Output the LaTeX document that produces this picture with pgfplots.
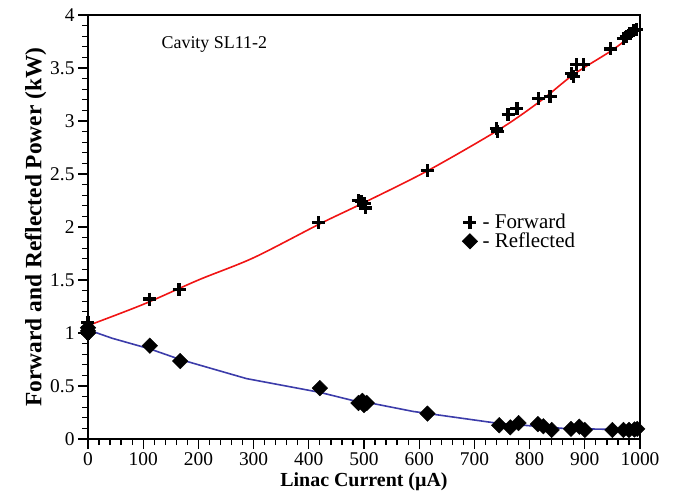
\documentclass[border=0pt]{standalone}
\usepackage{fontspec}
\setmainfont{Liberation Serif}
\usepackage{pgfplots}
\pgfplotsset{compat=1.18}
\usetikzlibrary{calc}

\definecolor{fitred}{RGB}{240,20,20}
\definecolor{fitblue}{RGB}{60,60,170}

\begin{document}
\begin{tikzpicture}
\begin{axis}[
    name=ax, scale only axis,
    width=552bp, height=424bp,
    xmin=0, xmax=1000, ymin=0, ymax=4,
    xtick={0,100,...,1000}, ytick={0,0.5,...,4},
    minor x tick num=4, minor y tick num=4,
    xtick pos=left, ytick pos=left,
    tick align=outside,
    major tick length=10bp, minor tick length=6bp,
    axis line style={line width=1.6bp},
    every tick/.style={black, line width=1.3bp},
    tick label style={font=\fontsize{19.5}{19.5}\selectfont},
    /pgf/number format/assume math mode=true,
    /pgf/number format/1000 sep={},
    xlabel={Linac Current (µA)},
    ylabel={Forward and Reflected Power (kW)},
    xlabel style={font=\fontsize{20}{20}\selectfont\bfseries},
    ylabel style={font=\fontsize{23.5}{23.5}\selectfont\bfseries, yshift=-3bp},
    legend style={at={(0.672,0.54)}, anchor=north west, draw=none, fill=none,
        font=\fontsize{21}{21}\selectfont, row sep=-1bp},
    legend cell align=left,
]
% fit lines
\addplot[fitred, line width=1.6bp, smooth, forget plot] coordinates {
(0,1.07) (100,1.27) (200,1.50) (300,1.71) (420,2.03) (500,2.23)
(615,2.53) (745,2.92) (820,3.19) (880,3.44) (950,3.67) (1000,3.87)};
\addplot[fitblue, line width=1.6bp, forget plot] coordinates {
(0,1.03) (44,0.95) (112,0.85) (167,0.75) (287,0.57) (420,0.44) (490,0.35)
(511,0.34) (589,0.26) (740,0.15) (861,0.10) (1000,0.085)};
% measured
\addplot[only marks, mark=+, mark size=6.5bp, line width=3.2bp, black] coordinates {
(0,1.05) (0,1.10) (0,1.00) (112,1.32) (165,1.41) (418,2.04)
(490,2.25) (496,2.24) (500,2.22) (503,2.18)
(615,2.53) (740,2.93) (742,2.90) (761,3.06) (777,3.12)
(816,3.21) (837,3.23) (876,3.45) (885,3.53) (897,3.53) (880,3.42)
(947,3.68) (970,3.78) (975,3.80) (982,3.83) (988,3.85) (994,3.86)};
\addplot[only marks, mark=square*, mark size=5.5bp, mark options={rotate=45}, black] coordinates {
(0,1.00) (0,1.05) (0,1.02) (112,0.88) (167,0.735) (420,0.48)
(490,0.34) (497,0.36) (500,0.32) (505,0.34)
(615,0.24) (745,0.13) (765,0.11) (780,0.15) (815,0.14) (825,0.12) (840,0.085)
(875,0.095) (890,0.116) (900,0.085) (950,0.085) (970,0.085) (980,0.085) (990,0.09) (995,0.095)};
\legend{\hspace{3bp}- Forward, \hspace{3bp}- Reflected}
\node[anchor=west, font=\fontsize{18}{18}\selectfont] at (axis cs:127,3.72) {Cavity SL11-2};
\end{axis}
\pgfresetboundingbox
\path[use as bounding box] ($(ax.south west)+(-88bp,-65bp)$) rectangle ($(ax.north east)+(35bp,15bp)$);
\end{tikzpicture}
\end{document}
